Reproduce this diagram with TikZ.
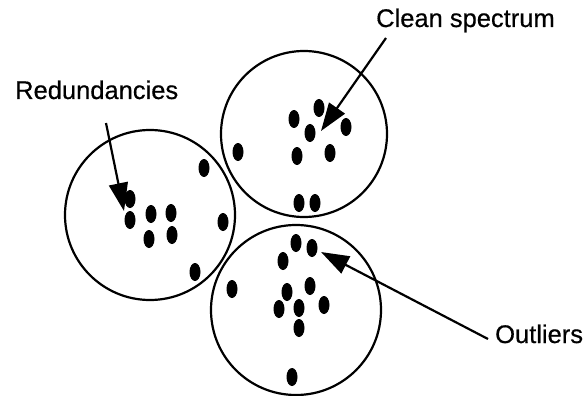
\documentclass[tikz,border=0pt]{standalone}
\usepackage{fontspec}
\setmainfont{Liberation Sans}
\newfontfamily\lblfont{Liberation Sans}[FakeBold=0.5]
\usetikzlibrary{shapes.geometric,arrows.meta}
\begin{document}
\begin{tikzpicture}[x=1pt,y=-1pt,
  cluster/.style={circle,draw,line width=2.2pt,inner sep=0pt},
  dot/.style={ellipse,fill=black,inner sep=0pt,minimum width=11pt,minimum height=18pt},
  lbl/.style={anchor=base west,inner sep=0pt,font=\lblfont\fontsize{25.5}{30}\selectfont},
  pointer/.style={line width=2.2pt,-{Triangle[length=28pt,width=19pt]}}]
\useasboundingbox (0,0) rectangle (587,396);
% clusters
\node[cluster,minimum size=170pt] (cl) at (150,215) {};
\node[cluster,minimum size=166pt] (ct) at (304,134) {};
\node[cluster,minimum size=170pt] (cb) at (296,310) {};
% left cluster dots
\node[dot] (l1) at (130,199) {};
\node[dot] (l2) at (130,220) {};
\node[dot] (l3) at (151,214) {};
\node[dot] (l4) at (171,213) {};
\node[dot] (l5) at (149,239) {};
\node[dot] (l6) at (172,235) {};
\node[dot] (l7) at (204,168) {};
\node[dot] (l8) at (223,222) {};
\node[dot] (l9) at (195,272) {};
% top cluster dots
\node[dot] (t1) at (319,108) {};
\node[dot] (t2) at (294,119) {};
\node[dot] (t3) at (310,133) {};
\node[dot] (t4) at (346,127) {};
\node[dot] (t5) at (297,156) {};
\node[dot] (t6) at (330,153) {};
\node[dot] (t7) at (238,152) {};
\node[dot] (t8) at (299,203) {};
\node[dot] (t9) at (315,203) {};
% bottom cluster dots
\node[dot] (b1) at (296,243) {};
\node[dot] (b2) at (312,248) {};
\node[dot] (b3) at (283,261) {};
\node[dot] (b4) at (232,289) {};
\node[dot] (b5) at (310,286) {};
\node[dot] (b6) at (287,292) {};
\node[dot] (b7) at (279,309) {};
\node[dot] (b8) at (299,308) {};
\node[dot] (b9) at (324,305) {};
\node[dot] (b10) at (299,328) {};
\node[dot] (b11) at (292,377) {};
% labels
\node[lbl] (red) at (15,99) {Redundancies};
\node[lbl] (cln) at (376,27) {Clean spectrum};
\node[lbl] (out) at (495,343) {Outliers};
% arrow ends
\coordinate (rs) at (106,123);
\coordinate (rt) at (124,211);
\coordinate (cs) at (386,38);
\coordinate (ct2) at (321,131);
\coordinate (os) at (488,339);
\coordinate (ot) at (321,252);
\draw[pointer] (rs) -- (rt);
\draw[pointer] (cs) -- (ct2);
\draw[pointer] (os) -- (ot);
\end{tikzpicture}
\end{document}
